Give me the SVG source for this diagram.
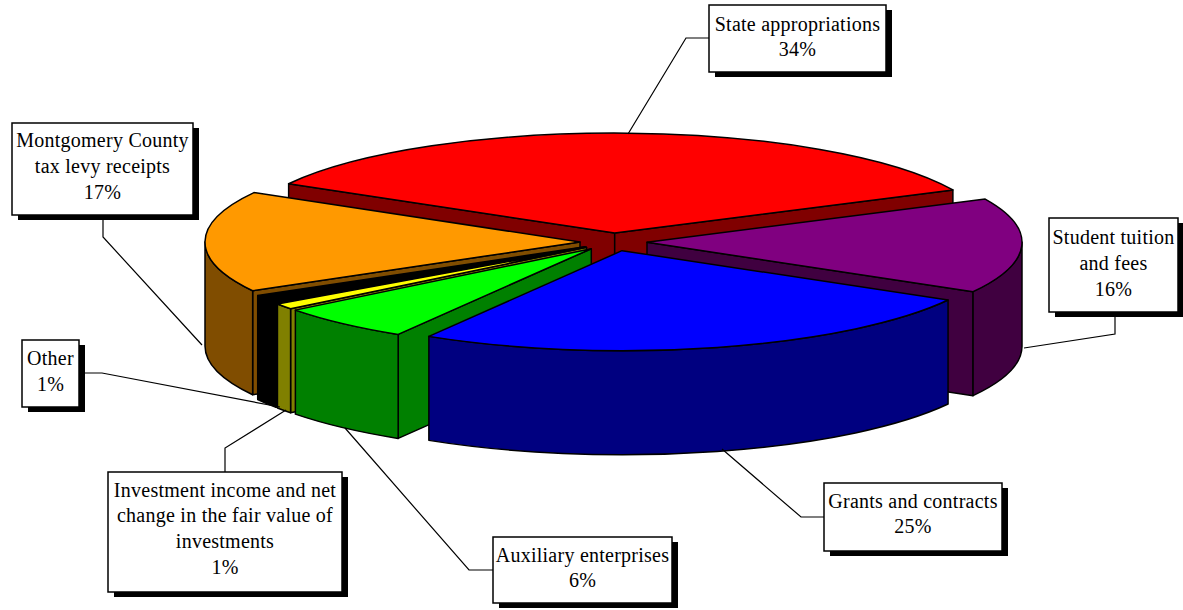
<svg xmlns="http://www.w3.org/2000/svg" width="1183" height="610" viewBox="0 0 1183 610">
<style>
.e{stroke:#000;stroke-width:1.5;stroke-linejoin:round}
.ld{fill:none;stroke:#000;stroke-width:1.2}
.bx{fill:#fff;stroke:#000;stroke-width:1.5}
.sh{fill:#000}
.t{font-family:"Liberation Serif","Times New Roman",serif;font-size:20px;letter-spacing:0.25px;fill:#000;text-anchor:middle}
</style>
<rect width="1183" height="610" fill="#fff"/>
<g id="slice-state">
<polygon class="e" fill="#800000" points="614.7,233.1 288.64,183.71 288.64,287.71 614.7,337.1"/>
<polygon class="e" fill="#800000" points="614.7,233.1 952.89,189.89 952.89,293.89 614.7,337.1"/>
<path class="e" fill="#ff0000" d="M614.7,233.1 L288.64,183.71 A375,100 0 0 1 952.89,189.89 Z"/>
</g>
<g id="slice-montgomery">
<polygon class="e" fill="#804d00" points="580,241.97 252.65,290.76 252.65,394.76 580,345.97"/>
<path class="e" fill="#804d00" d="M252.65,290.76 A375,100 0 0 1 205,241.97 L205,345.97 A375,100 0 0 0 252.65,394.76 Z"/>
<path class="e" fill="#ff9900" d="M580,241.97 L252.65,290.76 A375,100 0 0 1 253.94,192.58 Z"/>
</g>
<g id="slice-tuition">
<polygon class="e" fill="#400040" points="647,242.3 973.06,291.69 973.06,395.69 647,346.3"/>
<path class="e" fill="#400040" d="M1022,242.3 A375,100 0 0 1 973.06,291.69 L973.06,395.69 A375,100 0 0 0 1022,346.3 Z"/>
<path class="e" fill="#800080" d="M647,242.3 L985.19,199.09 A375,100 0 0 1 973.06,291.69 Z"/>
</g>
<g id="slice-other">
<polygon class="e" fill="#000000" points="585.05,246.7 276,303.34 276,407.34 585.05,350.7"/>
<path class="e" fill="#000000" d="M276,303.34 A375,100 0 0 1 257.7,295.49 L257.7,399.49 A375,100 0 0 0 276,407.34 Z"/>
<path class="e" fill="#000000" d="M585.05,246.7 L276,303.34 A375,100 0 0 1 257.7,295.49 Z"/>
</g>
<g id="slice-investment">
<polygon class="e" fill="#808000" points="586.5,247.3 290.59,308.73 290.59,412.73 586.5,351.3"/>
<path class="e" fill="#808000" d="M290.59,308.73 A375,100 0 0 1 277.45,303.94 L277.45,407.94 A375,100 0 0 0 290.59,412.73 Z"/>
<path class="e" fill="#ffff00" d="M586.5,247.3 L290.59,308.73 A375,100 0 0 1 277.45,303.94 Z"/>
</g>
<g id="slice-auxiliary">
<polygon class="e" fill="#008000" points="591.3,248.7 398.16,334.42 398.16,438.42 591.3,352.7"/>
<path class="e" fill="#008000" d="M398.16,334.42 A375,100 0 0 1 295.39,310.13 L295.39,414.13 A375,100 0 0 0 398.16,438.42 Z"/>
<path class="e" fill="#00ff00" d="M591.3,248.7 L398.16,334.42 A375,100 0 0 1 295.39,310.13 Z"/>
</g>
<g id="slice-grants">
<path class="e" fill="#000080" d="M948.06,300.04 A375,100 0 0 1 428.86,336.37 L428.86,440.37 A375,100 0 0 0 948.06,404.04 Z"/>
<path class="e" fill="#0000ff" d="M622,250.65 L948.06,300.04 A375,100 0 0 1 428.86,336.37 Z"/>
</g>
<g id="connectors">
<polyline class="ld" points="709,38 686,38 628,134"/>
<polyline class="ld" points="103,215 103,237 202,345"/>
<polyline class="ld" points="1115,312 1115,334 1024,348"/>
<polyline class="ld" points="79,373 102,373 280,407"/>
<polyline class="ld" points="225,472 225,448 286,410"/>
<polyline class="ld" points="493,570 469,570 345,428"/>
<polyline class="ld" points="824,517 801,517 722,449"/>
</g>
<g id="label-state">
<rect class="sh" x="715" y="10" width="177" height="67"/>
<rect class="bx" x="709" y="5" width="177" height="67"/>
<text class="t" x="797.5" y="31">State appropriations</text>
<text class="t" x="797.5" y="56">34%</text>
</g>
<g id="label-montgomery">
<rect class="sh" x="18" y="128" width="181" height="92"/>
<rect class="bx" x="12" y="123" width="181" height="92"/>
<text class="t" x="102.5" y="147">Montgomery County</text>
<text class="t" x="102.5" y="173">tax levy receipts</text>
<text class="t" x="102.5" y="199">17%</text>
</g>
<g id="label-tuition">
<rect class="sh" x="1055" y="223" width="129" height="94"/>
<rect class="bx" x="1049" y="218" width="129" height="94"/>
<text class="t" x="1113.5" y="244">Student tuition</text>
<text class="t" x="1113.5" y="270">and fees</text>
<text class="t" x="1113.5" y="296">16%</text>
</g>
<g id="label-other">
<rect class="sh" x="28" y="345" width="57" height="67"/>
<rect class="bx" x="22" y="340" width="57" height="67"/>
<text class="t" x="50.5" y="365">Other</text>
<text class="t" x="50.5" y="391">1%</text>
</g>
<g id="label-investment">
<rect class="sh" x="114" y="477" width="234" height="120"/>
<rect class="bx" x="108" y="472" width="234" height="120"/>
<text class="t" x="225" y="497">Investment income and net</text>
<text class="t" x="225" y="522">change in the fair value of</text>
<text class="t" x="225" y="548">investments</text>
<text class="t" x="225" y="574">1%</text>
</g>
<g id="label-auxiliary">
<rect class="sh" x="499" y="542" width="179" height="66"/>
<rect class="bx" x="493" y="537" width="179" height="66"/>
<text class="t" x="582.5" y="562">Auxiliary enterprises</text>
<text class="t" x="582.5" y="587">6%</text>
</g>
<g id="label-grants">
<rect class="sh" x="830" y="488" width="178" height="68"/>
<rect class="bx" x="824" y="483" width="178" height="68"/>
<text class="t" x="913" y="508">Grants and contracts</text>
<text class="t" x="913" y="533">25%</text>
</g>
</svg>
